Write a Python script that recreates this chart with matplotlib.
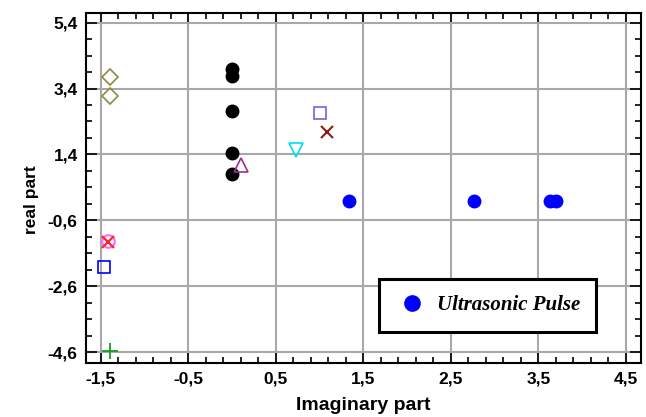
import matplotlib
matplotlib.use('Agg')
import matplotlib.pyplot as plt
from matplotlib.ticker import MultipleLocator, FuncFormatter
from matplotlib.lines import Line2D
import numpy as np

# data (imaginary part, real part)
black_x = [0, 0, 0, 0, 0]
black_y = [4.0, 3.78, 2.72, 1.45, 0.8]
pulse_x = [1.34, 2.76, 3.63, 3.70]
pulse_y = [0, 0, 0, 0]
diamond_x = [-1.39, -1.39]
diamond_y = [3.76, 3.17]
tri_up = (0.10, 1.08)
tri_down = (0.73, 1.53)
sq_purple = (1.0, 2.65)
x_darkred = (1.08, 2.07)
circ_magenta = (-1.42, -1.22)
x_red = (-1.42, -1.27)
sq_blue = (-1.46, -2.01)
plus_green = (-1.39, -4.57)

plt.rcParams['font.family'] = ['Liberation Sans', 'DejaVu Sans']

fig = plt.figure(figsize=(6.46, 4.17), dpi=100)
ax = fig.add_axes([0.1331, 0.1302, 0.8587, 0.8379])

ax.plot(black_x, black_y, 'o', color='black', ms=9, zorder=3)
ax.plot(pulse_x, pulse_y, 'o', color='#0000ff', ms=9, zorder=3)
ax.plot(diamond_x, diamond_y, 'D', mfc='none', mec='#8c8c3c', ms=8, mew=1.2, zorder=3)
ax.plot(*tri_up, '^', mfc='none', mec='#9b2d9b', ms=10, mew=1.2, zorder=3)
ax.plot(*tri_down, 'v', mfc='none', mec='#00e0f0', ms=10, mew=1.2, zorder=3)
ax.plot(*sq_purple, 's', mfc='none', mec='#7563d4', ms=9, mew=1.2, zorder=3)
ax.plot(*x_darkred, 'x', color='#8b1a1a', ms=9, mew=1.5, zorder=3)
ax.plot(*circ_magenta, 'o', mfc='none', mec='#ff66ff', ms=9, mew=1.5, zorder=3)
ax.plot(*x_red, 'x', color='#ff2020', ms=8, mew=1.5, zorder=3)
ax.plot(*sq_blue, 's', mfc='none', mec='#0000ff', ms=9, mew=1.2, zorder=3)
ax.plot(*plus_green, '+', color='#1a9a1a', ms=11, mew=1.3, zorder=3)

ax.set_xlim(-1.668, 4.668)
ax.set_ylim(-4.925, 5.685)
ax.xaxis.set_major_locator(MultipleLocator(1, offset=0.5))
ax.xaxis.set_minor_locator(MultipleLocator(0.2, offset=0.1))
ax.yaxis.set_major_locator(MultipleLocator(2, offset=1.4))
ax.yaxis.set_minor_locator(MultipleLocator(0.5, offset=0.4))

comma = FuncFormatter(lambda v, p: ('%.1f' % v).replace('.', ','))
ax.xaxis.set_major_formatter(comma)
ax.yaxis.set_major_formatter(comma)

ax.grid(True, which='major', color='#a8a8a8', lw=1.5)
ax.set_axisbelow(True)
ax.tick_params(which='both', direction='in', top=True, right=True, width=1.2)
ax.tick_params(which='major', length=8, labelsize=12.5, pad=6)
ax.tick_params(which='minor', length=4)
for lab in ax.get_xticklabels() + ax.get_yticklabels():
    lab.set_fontweight('bold')
for s in ax.spines.values():
    s.set_linewidth(1.5)

ax.set_xlabel('Imaginary part', fontsize=14, fontweight='bold', labelpad=8)
ax.set_ylabel('real part', fontsize=12.5, fontweight='bold')
ax.yaxis.set_label_coords(-0.085, 0.466)

h = Line2D([], [], ls='none', marker='o', color='#0000ff', ms=11)
leg = ax.legend([h], ['Ultrasonic Pulse'], loc='upper left',
                bbox_to_anchor=(0.528, 0.2395), frameon=True, fancybox=False,
                framealpha=1, borderpad=0.78, handletextpad=0.4,
                borderaxespad=0, handlelength=1.6,
                prop={'family': 'Liberation Serif', 'weight': 'bold',
                      'style': 'italic', 'size': 15})
leg.get_frame().set_edgecolor('black')
leg.get_frame().set_linewidth(2.2)

fig.savefig('out.png', dpi=100)
